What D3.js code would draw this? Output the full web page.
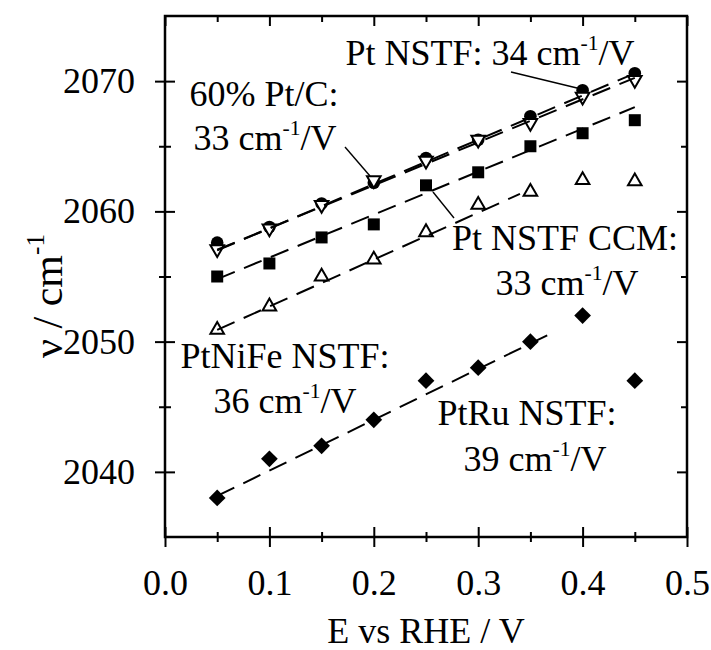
<!DOCTYPE html>
<html><head><meta charset="utf-8">
<script src="https://cdn.jsdelivr.net/npm/d3@7"></script>
</head><body style="margin:0;background:#fff"><svg id="c" width="711" height="650"></svg>
<script>
// ---- data ----
const potentials = [0.05,0.10,0.15,0.20,0.25,0.30,0.35,0.40,0.45];
const ptNSTF    = [2057.6,2058.8,2060.6,2062.2,2064.1,2065.5,2067.3,2069.3,2070.6];
const ptC60     = [2057.1,2058.7,2060.5,2062.4,2063.9,2065.5,2066.8,2068.8,2070.1];
const ptNSTFCCM = [2055.0,2056.0,2058.0,2059.0,2062.0,2063.0,2065.0,2066.0,2067.0];
const ptNiFe    = [2050.9,2052.7,2055.0,2056.3,2058.4,2060.5,2061.5,2062.4,2062.3];
const ptRu      = [2038.0,2041.0,2042.0,2044.0,2047.0,2048.0,2050.0,2052.0,2047.0];
// linear fits (slope in cm-1/V as labelled, intercept, fitted range)
const fitNames      = ["Pt NSTF","60% Pt/C","Pt NSTF CCM","PtNiFe NSTF","PtRu NSTF"];
const fitSlopes     = [34,33,33,36,39];
const fitIntercepts = [2055.3,2055.4,2053.15,2049.1,2036.2];
const fitStart      = [0.05,0.05,0.05,0.05,0.05];
const fitEnd        = [0.45,0.45,0.45,0.34,0.37];
const xMajorTicks = [0.0,0.1,0.2,0.3,0.4,0.5];
const xMinorTicks = [0.05,0.15,0.25,0.35,0.45];
const yMajorTicks = [2040,2050,2060,2070];
const yMinorTicks = [2045,2055,2065];

const FONT = '"Liberation Serif"';
const svg = d3.select("#c");
const L=165,R=687,T=16,B=537;
const x = d3.scaleLinear().domain([0,0.5]).range([L,R]);
const y = d3.scaleLinear().domain([2035,2075]).range([B,T]);
const FS = 36;

// ---- axes ----
function styleAxis(g){ g.attr("font-family",FONT).attr("font-size",FS);
  g.select(".domain").remove(); g.selectAll(".tick line").attr("stroke","#000").attr("stroke-width",2);
  g.selectAll("text").attr("fill","#000"); }
// bottom: crossing ticks
svg.append("g").attr("transform",`translate(0,${B-10})`)
  .call(d3.axisBottom(x).tickValues(xMajorTicks).tickSize(20).tickPadding(22).tickFormat(d3.format(".1f"))).call(styleAxis);
svg.append("g").attr("transform",`translate(0,${B-5})`)
  .call(d3.axisBottom(x).tickValues(xMinorTicks).tickSize(10).tickFormat("")).call(styleAxis);
// top: inside ticks
svg.append("g").attr("transform",`translate(0,${T})`)
  .call(d3.axisBottom(x).tickValues(xMajorTicks).tickSize(10).tickFormat("")).call(styleAxis);
svg.append("g").attr("transform",`translate(0,${T})`)
  .call(d3.axisBottom(x).tickValues(xMinorTicks).tickSize(6).tickFormat("")).call(styleAxis);
// left: crossing ticks
svg.append("g").attr("transform",`translate(${L+10},0)`)
  .call(d3.axisLeft(y).tickValues(yMajorTicks).tickSize(20).tickPadding(20).tickFormat(d3.format("d"))).call(styleAxis);
svg.append("g").attr("transform",`translate(${L+6},0)`)
  .call(d3.axisLeft(y).tickValues(yMinorTicks).tickSize(12).tickFormat("")).call(styleAxis);
// right: inside ticks
svg.append("g").attr("transform",`translate(${R},0)`)
  .call(d3.axisLeft(y).tickValues(yMajorTicks).tickSize(10).tickFormat("")).call(styleAxis);
svg.append("g").attr("transform",`translate(${R},0)`)
  .call(d3.axisLeft(y).tickValues(yMinorTicks).tickSize(6).tickFormat("")).call(styleAxis);
// frame
svg.append("rect").attr("x",L).attr("y",T).attr("width",R-L).attr("height",B-T)
  .attr("fill","none").attr("stroke","#000").attr("stroke-width",2.5);

// ---- rich text helper (superscripts) ----
function rich(parent, px, py, parts, anchor, size){
  size = size||FS;
  const t = parent.append("text").attr("x",px).attr("y",py).attr("text-anchor",anchor||"start")
    .attr("font-family",FONT).attr("font-size",size).attr("fill","#000");
  let shift=0;
  parts.forEach(p=>{
    const s = t.append("tspan").text(p[0]);
    if(p[1]){ s.attr("font-size",size*0.6).attr("dy",-size*0.42); shift=size*0.42; }
    else if(shift){ s.attr("dy",shift); shift=0; }
  });
  return t;
}

// axis titles
rich(svg,426,643,[["E vs RHE / V"]],"middle");
const yt = svg.append("g").attr("transform","translate(62,296) rotate(-90)");
rich(yt,0,0,[["ν / cm"],["-1",true]],"middle",42);

// ---- markers ----
const g = svg.append("g");
function markers(vals, sym, size, fill, rot){
  g.selectAll(null).data(vals).enter().append("path")
    .attr("d", d3.symbol().type(sym).size(size))
    .attr("transform",(d,i)=>`translate(${x(potentials[i])},${y(d)}) rotate(${rot||0})`)
    .attr("fill",fill).attr("stroke","#000").attr("stroke-width",fill==="#000"?0:2);
}
markers(ptNSTF, d3.symbolCircle, 125, "#000");
markers(ptC60, d3.symbolTriangle, 80, "#fff", 180);
markers(ptNSTFCCM, d3.symbolSquare, 144, "#000");
markers(ptNiFe, d3.symbolTriangle, 80, "#fff", 0);
markers(ptRu, d3.symbolSquare, 140, "#000", 45);

// ---- fit lines (dashed) ----
const line = d3.line().x(d=>x(d[0])).y(d=>y(d[1]));
fitSlopes.forEach((s,i)=>{
  const pts=[fitStart[i],fitEnd[i]].map(e=>[e,fitIntercepts[i]+s*e]);
  svg.append("path").attr("d",line(pts)).attr("fill","none").attr("stroke","#000")
    .attr("stroke-width",2).attr("stroke-dasharray","19,10");
});

// ---- annotations ----
const ann = svg.append("g");
rich(ann,490,65,[["Pt NSTF: 34 cm"],["-1",true],["/V"]],"middle");
ann.append("line").attr("x1",511).attr("y1",72).attr("x2",577).attr("y2",88).attr("stroke","#000").attr("stroke-width",1.4);
rich(ann,264,106,[["60% Pt/C:"]],"middle");
rich(ann,265,150,[["33 cm"],["-1",true],["/V"]],"middle");
ann.append("line").attr("x1",345).attr("y1",147).attr("x2",370).attr("y2",176).attr("stroke","#000").attr("stroke-width",1.4);
rich(ann,565,250,[["Pt NSTF CCM:"]],"middle");
rich(ann,567,295,[["33 cm"],["-1",true],["/V"]],"middle");
ann.append("line").attr("x1",433).attr("y1",192).attr("x2",454).attr("y2",218).attr("stroke","#000").attr("stroke-width",1.4);
rich(ann,285,368,[["PtNiFe NSTF:"]],"middle");
rich(ann,285,413,[["36 cm"],["-1",true],["/V"]],"middle");
rich(ann,527,425,[["PtRu NSTF:"]],"middle");
rich(ann,535,471,[["39 cm"],["-1",true],["/V"]],"middle");
</script></body></html>
